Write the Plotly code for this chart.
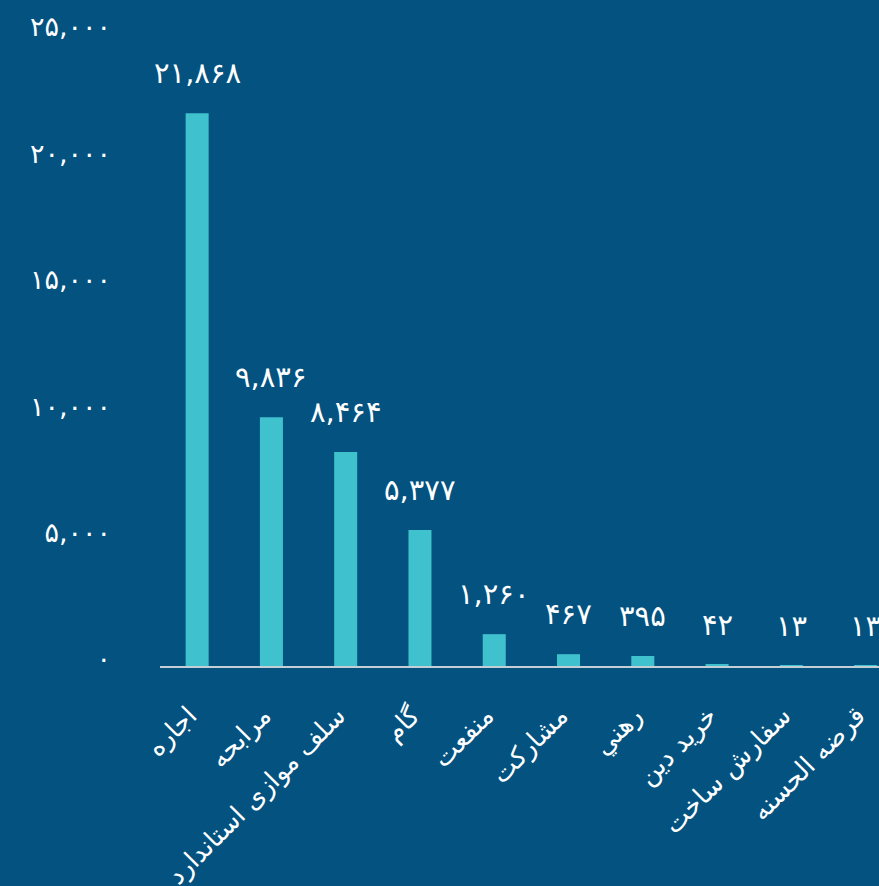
import plotly.graph_objects as go


categories = ['اجاره', 'مرابحه', 'سلف موازی استاندارد', 'گام', 'منفعت',
              'مشارکت', 'رهني', 'خرید دین', 'سفارش ساخت', 'قرضه الحسنه']
values = [21868, 9836, 8464, 5377, 1260, 467, 395, 42, 13, 13]
y_ticks = [0, 5000, 10000, 15000, 20000, 25000]

BG = '#03527f'
BAR = '#3fc1ce'
FONT = 'DejaVu Sans'

FA_DIGITS = str.maketrans('0123456789', '۰۱۲۳۴۵۶۷۸۹')


def fa_num(n):
    return f'{n:,}'.translate(FA_DIGITS)


fig = go.Figure()

fig.add_trace(
    go.Bar(
        x=categories, y=values,
        marker=dict(color=BAR, line=dict(width=0)),
        width=0.31,
        hoverinfo='skip'
    )
)

# value labels sit well above each bar
for c, v in zip(categories, values):
    fig.add_annotation(
        x=c, y=v, text=fa_num(v),
        showarrow=False, yanchor='middle', yshift=40,
        font=dict(family=FONT, size=29, color='white')
    )

fig.update_layout(
    width=879, height=886,
    paper_bgcolor=BG, plot_bgcolor=BG,
    margin=dict(l=160, r=0, t=34, b=220),
    showlegend=False,
    font=dict(family=FONT, color='white'),
)

fig.update_xaxes(
    range=[-0.5, 9.18],
    tickangle=-45,
    tickfont=dict(family=FONT, size=26, color='white'),
    showline=True, linecolor='#c3ced5', linewidth=2,
    showgrid=False, ticks='', zeroline=False,
    ticklabelstandoff=22, ticklabelshift=-8,
    automargin=False,
)

fig.update_yaxes(
    range=[0, 25000],
    tickvals=y_ticks,
    ticktext=[fa_num(t) for t in y_ticks],
    tickfont=dict(family=FONT, size=27, color='white'),
    showgrid=False, zeroline=False, showline=False,
    ticklabelstandoff=48, ticklabelshift=-7,
    automargin=False,
)

# page margin off so the chart fills the window edge to edge
fig.write_html(
    'out.html',
    config={'displayModeBar': False},
    post_script="document.body.style.margin='0';"
)
